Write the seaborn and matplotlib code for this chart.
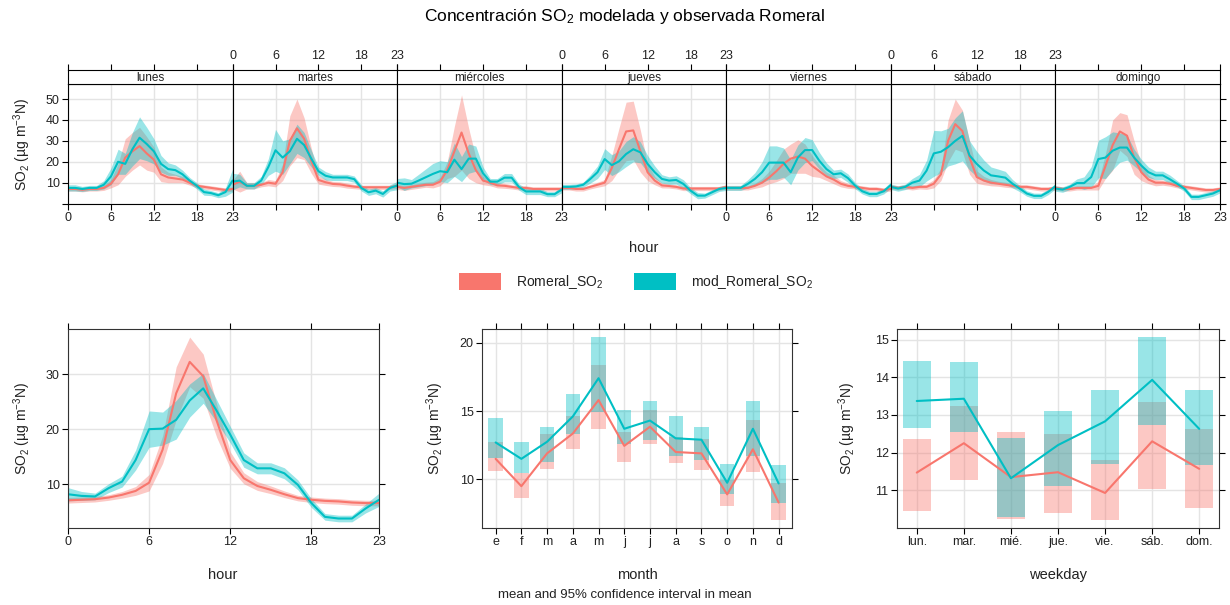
import numpy as np
import pandas as pd
import matplotlib
matplotlib.use("Agg")
import matplotlib.pyplot as plt
import seaborn as sns
from matplotlib.patches import Patch

# ---------------------------------------------------------------- data
days = ["lunes", "martes", "miércoles", "jueves", "viernes", "sábado", "domingo"]
hours = list(range(24))

# observed SO2, mean by weekday (rows) and hour (columns)
obs_day_hour = [
    [7, 7, 6.6, 7, 7, 7.5, 9.5, 14, 22, 25, 27.5, 24, 21, 14, 12.5, 12, 11.5, 10, 8.5, 8, 7.5, 7, 6.5, 7],
    [9, 10.5, 8.5, 8.5, 9, 10, 9.5, 15, 30, 36, 31, 20.5, 11.3, 10.2, 9.4, 9.2, 8.6, 8.1, 7.8, 7.8, 7.8, 7.8, 7.8, 8.5],
    [8, 7.5, 8, 8.5, 9, 9, 10.5, 16, 25, 34, 24, 16, 11, 10, 8.7, 8.5, 8, 7.5, 7.5, 7, 7, 7, 7, 7],
    [7.5, 7.5, 7, 7, 8, 9, 10, 17, 26, 34.5, 35, 25, 15, 11, 8.7, 8.4, 8, 7.2, 7.2, 7.2, 7.2, 7.2, 7.2, 8],
    [7.5, 7.5, 7.5, 7.5, 8.5, 10, 12.5, 15.5, 19, 21.5, 22.5, 21.5, 18, 15.5, 13, 11.5, 9.5, 8.5, 8, 7.5, 7, 7, 6.5, 7],
    [8, 7.5, 8, 7.5, 8, 8, 9.5, 14, 30, 38, 34.7, 22, 12.7, 11, 10, 9.5, 9, 8.5, 8, 8, 7.5, 7, 7, 7.5],
    [7.5, 7, 7, 7.5, 7.5, 7.5, 8.5, 18, 28, 34.5, 32.5, 22, 15, 11.5, 10, 10, 9.5, 8.5, 8, 7.5, 7, 6.5, 6.5, 7],
]
# half width of the 95% confidence interval of the observed mean
obs_day_hour_hw = [
    [1, 1, 1, 1, 1, 1.2, 2, 5, 9, 9, 9, 8, 6, 3.5, 2.5, 2, 1.5, 1.2, 1, 1, 1, 1, 1, 1],
    [2, 5, 1.5, 1.5, 1, 1.5, 1.5, 4, 12, 14, 10, 6, 2, 1.5, 1.2, 1.2, 1.2, 1, 1, 1, 1, 1, 1, 1.2],
    [1.2, 1.2, 1.2, 1.2, 1.2, 1.5, 2, 4, 12, 18, 12, 6, 2, 1.5, 1.2, 1.2, 1, 1, 1, 1, 1, 1, 1, 1],
    [1, 1, 1, 1, 1, 1.2, 1.5, 6, 10, 14, 14, 10, 4, 2, 1.2, 1, 1, 1, 1, 1, 1, 1, 1, 1],
    [1, 1, 1, 1, 1.2, 2, 3, 5, 7, 7, 8, 7, 5, 3, 2, 2, 1.5, 1.2, 1, 1, 1, 1, 1, 1],
    [1, 1, 1, 1, 1, 1.2, 2, 3, 10, 12, 10, 8, 3, 2, 1.5, 1.2, 1.2, 1, 1, 1, 1, 1, 1, 1],
    [1, 1, 1, 1, 1, 1, 2, 6, 12, 9, 10, 8, 4, 2, 1.5, 1.2, 1.2, 1, 1, 1, 1, 1, 1, 1],
]
# modelled SO2, mean by weekday and hour
mod_day_hour = [
    [7.5, 7.5, 7, 7.5, 7.5, 9, 13, 20, 19, 26, 31.5, 28.5, 25, 19, 16.5, 16, 14, 11, 8.5, 5.5, 5, 4, 5.5, 11],
    [10.5, 11, 8.5, 8.5, 11, 17.5, 25.5, 22, 25, 31, 28, 21.5, 15.5, 13.3, 12.5, 12.5, 12.5, 11.7, 7.5, 5.4, 6.2, 4.6, 7.5, 8.6],
    [10, 9.3, 9.5, 11, 12.6, 14.2, 15.5, 15, 21, 16.5, 21.5, 21.5, 14.5, 10.5, 10.5, 12.4, 12.4, 8, 5.8, 5.8, 5.8, 4.5, 4.5, 6.7],
    [8, 8, 8.2, 9, 11.8, 15, 21.3, 18.4, 20.2, 23.7, 26, 24.5, 19, 15, 11.8, 11, 11.3, 9.4, 6.2, 3.8, 3.8, 5.4, 7, 7.5],
    [7.5, 7.5, 7.5, 9.4, 11.8, 15, 19.6, 19.6, 19.6, 15, 22, 25.6, 25.6, 20.5, 16.5, 14, 14.5, 12.2, 8.6, 5.9, 4.6, 4.6, 5.9, 8.9],
    [8, 7.2, 8, 10, 11, 15.8, 24, 24.8, 27, 30, 32.4, 23, 19, 15.8, 13.5, 13, 12.4, 9.5, 7.2, 4.8, 3.7, 3.7, 5.6, 8.3],
    [7.2, 6.7, 8, 9.8, 9.8, 12.7, 21.3, 22, 25.3, 26.8, 26.8, 22, 18.2, 15, 13.5, 13.5, 11.6, 9.5, 7.2, 3.2, 3.2, 4, 4.8, 6.4],
]
mod_day_hour_hw = [
    [1.5, 1.5, 1.2, 1.2, 1.2, 2, 4, 6, 5, 8, 10, 8, 6, 4, 3, 2.5, 2, 1.5, 1.5, 1.5, 1.2, 1.2, 2, 5.5],
    [4, 3, 1.5, 1.5, 2, 4, 10, 8, 6, 7, 6, 4, 2, 2, 1.5, 1.5, 1.5, 1.5, 1.5, 1.5, 1.5, 1.5, 1.5, 2],
    [2, 3, 2, 3, 4, 5, 5, 5, 8, 6, 7, 6, 3, 1.5, 1.5, 2, 2, 1.5, 1.5, 1.5, 1.5, 1.2, 1.2, 1.5],
    [1.2, 1.2, 1.2, 1.2, 2, 3, 5, 5, 5, 6, 6, 5, 4, 3, 2, 1.8, 2, 2, 1.5, 1.5, 1.2, 1.2, 1.2, 1.2],
    [1.2, 1.2, 1.2, 2, 3, 5, 8, 8, 7, 6, 6, 6, 5, 4, 3, 2, 2, 2, 1.5, 1.3, 1.3, 1.3, 1.3, 1.5],
    [1.3, 1.3, 1.3, 2, 3, 5, 11, 10, 9, 11, 12, 7, 6, 5, 4, 3.5, 3, 2, 1.5, 1.3, 1.3, 1.3, 1.3, 1.3],
    [1.3, 1.3, 1.3, 2, 3, 5, 9, 10, 9, 7, 6, 4, 3, 2.5, 2, 2, 2, 1.5, 1.3, 1.3, 1.3, 1.3, 1.3, 1.3],
]

# diurnal profile over all days
obs_hour = [7.1, 7.2, 7.3, 7.6, 8.1, 8.8, 10.3, 16.3, 26.5, 32.2, 29.6, 21.5, 14.4, 11.1, 9.7, 9, 8.2, 7.5, 7.2, 7, 6.9, 6.7, 6.6, 6.6]
obs_hour_hw = [0.5, 0.5, 0.5, 0.5, 0.6, 0.8, 1.5, 2.5, 4.8, 4.5, 4, 3, 1.5, 1, 0.8, 0.7, 0.6, 0.5, 0.5, 0.5, 0.5, 0.5, 0.5, 0.5]
mod_hour = [8.2, 7.9, 7.8, 9.3, 10.5, 14.4, 20, 20.1, 21.7, 25.2, 27.4, 23.3, 19, 14.4, 12.9, 12.9, 12, 9.9, 6.6, 4.1, 3.8, 3.8, 5.6, 7.2]
mod_hour_hw = [1.2, 0.8, 0.6, 0.8, 1, 1.8, 3.3, 3, 3.5, 3, 2.7, 2, 1.5, 1.3, 1, 1, 1, 0.9, 0.8, 0.6, 0.6, 0.6, 0.8, 1.2]

# monthly means with 95% confidence limits
months = ["e", "f", "m", "a", "m", "j", "j", "a", "s", "o", "n", "d"]
obs_month = [11.5, 9.5, 11.9, 13.35, 15.8, 12.45, 13.85, 12.0, 11.9, 8.9, 12.2, 8.3]
obs_month_lo = [10.6, 8.6, 10.75, 12.2, 13.65, 11.3, 12.6, 11.2, 10.7, 8.05, 10.55, 7.0]
obs_month_hi = [12.7, 10.45, 13.3, 14.6, 18.4, 13.45, 15.05, 13.1, 12.95, 9.95, 14.35, 9.75]
mod_month = [12.7, 11.5, 12.75, 14.6, 17.4, 13.7, 14.3, 13.0, 12.9, 9.75, 13.7, 9.7]
mod_month_lo = [11.55, 10.45, 11.3, 13.35, 14.9, 12.6, 12.9, 11.7, 11.4, 8.9, 11.7, 8.3]
mod_month_hi = [14.5, 12.75, 13.8, 16.25, 20.4, 15.1, 15.7, 14.6, 13.8, 11.1, 15.7, 11.05]

# weekday means with 95% confidence limits
weekdays = ["lun.", "mar.", "mié.", "jue.", "vie.", "sáb.", "dom."]
obs_wd = [11.47, 12.25, 11.35, 11.48, 10.93, 12.3, 11.57]
obs_wd_lo = [10.45, 11.27, 10.23, 10.4, 10.2, 11.04, 10.54]
obs_wd_hi = [12.36, 13.24, 12.54, 12.5, 11.8, 13.35, 12.64]
mod_wd = [13.37, 13.43, 11.32, 12.2, 12.83, 13.93, 12.63]
mod_wd_lo = [12.65, 12.54, 10.3, 11.12, 11.7, 12.73, 11.66]
mod_wd_hi = [14.43, 14.41, 12.4, 13.1, 13.67, 15.08, 13.66]

# ---------------------------------------------------------------- style
sns.set_theme(style="white")
plt.rcParams["font.family"] = ["Liberation Sans", "DejaVu Sans"]
plt.rcParams["mathtext.fontset"] = "custom"
plt.rcParams["mathtext.rm"] = "Liberation Sans"
plt.rcParams["mathtext.it"] = "Liberation Sans:italic"
plt.rcParams["mathtext.bf"] = "Liberation Sans:bold"

OBS = "#F8766D"
MOD = "#00BFC4"
GRID = "#e4e4e4"
TXT = "#222222"
ALPHA = 0.4
YLAB = "SO$_2$ (µg m$^{-3}$N)"

W, H = 1230, 605
fig = plt.figure(figsize=(W / 100, H / 100), dpi=100)


def rect(x0, y0, x1, y1):
    return [x0 / W, 1 - y1 / H, (x1 - x0) / W, (y1 - y0) / H]


def frame(ax, color="black"):
    for s in ax.spines.values():
        s.set_visible(True)
        s.set_color(color)
        s.set_linewidth(0.8)
    ax.tick_params(direction="out", length=4, width=0.8, color="black",
                   labelsize=9, labelcolor=TXT, pad=2)


def band_line(ax, x, mean, lo, hi, color):
    ax.fill_between(x, lo, hi, color=color, alpha=ALPHA, linewidth=0)
    df = pd.DataFrame({"x": x, "y": mean})
    sns.lineplot(data=df, x="x", y="y", color=color, linewidth=1.5,
                 ax=ax, legend=False, errorbar=None)
    ax.set_xlabel("")
    ax.set_ylabel("")


# ---------------------------------------------------------------- weekday x hour panels
pw = (1220 - 68) / 7
hx = np.array(hours)
for i, day in enumerate(days):
    x0 = 68 + i * pw
    ax = fig.add_axes(rect(x0, 84, x0 + pw, 204))
    for mean, hw, col in ((obs_day_hour[i], obs_day_hour_hw[i], OBS),
                          (mod_day_hour[i], mod_day_hour_hw[i], MOD)):
        m = np.array(mean)
        h = np.array(hw)
        band_line(ax, hx, m, m - h, m + h, col)
    ax.set_xlim(0, 23)
    ax.set_ylim(-0.2, 57.2)
    ax.set_xticks([0, 6, 12, 18, 23])
    ax.set_yticks([0, 10, 20, 30, 40, 50])
    ax.grid(True, color=GRID, linewidth=1)
    ax.set_axisbelow(True)
    frame(ax)
    ax.tick_params(axis="x", bottom=True, top=False, labelbottom=(i % 2 == 0))
    ax.tick_params(axis="y", left=(i == 0), right=(i == 6),
                   labelleft=(i == 0), labelright=False)
    if i == 0:
        ax.set_yticklabels(["", "10", "20", "30", "40", "50"])

    strip = fig.add_axes(rect(x0, 70, x0 + pw, 84))
    strip.set_xlim(0, 23)
    strip.set_ylim(0, 1)
    strip.set_yticks([])
    strip.set_xticks([0, 6, 12, 18, 23])
    frame(strip)
    strip.tick_params(axis="x", top=True, bottom=False, labeltop=(i % 2 == 1),
                      labelbottom=False)
    strip.set_facecolor("white")
    strip.text(11.5, 0.45, day, ha="center", va="center", fontsize=8.5, color=TXT)

fig.text(22 / W, 1 - 144 / H, YLAB, rotation=90, ha="center", va="center",
         fontsize=10, color=TXT)
fig.text(644 / W, 1 - 248 / H, "hour", ha="center", va="center", fontsize=10.5, color=TXT)

# ---------------------------------------------------------------- legend
handles = [Patch(facecolor=OBS, edgecolor="none", label="Romeral_SO$_2$"),
           Patch(facecolor=MOD, edgecolor="none", label="mod_Romeral_SO$_2$")]
fig.legend(handles=handles, loc="center", bbox_to_anchor=(636 / W, 1 - 282 / H),
           ncol=2, frameon=False, fontsize=10, handlelength=3.0, handleheight=1.45,
           columnspacing=2.2, handletextpad=1.1, labelcolor=TXT)

# ---------------------------------------------------------------- hour panel
ax = fig.add_axes(rect(68, 329, 379, 528))
for mean, hw, col in ((obs_hour, obs_hour_hw, OBS), (mod_hour, mod_hour_hw, MOD)):
    m = np.array(mean)
    h = np.array(hw)
    band_line(ax, hx, m, m - h, m + h, col)
ax.set_xlim(0, 23)
ax.set_ylim(2.08, 38.16)
ax.set_xticks([0, 6, 12, 18, 23])
ax.set_yticks([10, 20, 30])
ax.grid(True, color=GRID, linewidth=1)
ax.set_axisbelow(True)
frame(ax, "#333333")
ax.tick_params(bottom=True, top=True, left=True, right=True,
               labeltop=False, labelright=False)
fig.text(223 / W, 1 - 575 / H, "hour", ha="center", va="center", fontsize=10.5, color=TXT)
fig.text(22 / W, 1 - 428 / H, YLAB, rotation=90, ha="center", va="center",
         fontsize=10, color=TXT)

# ---------------------------------------------------------------- month panel
ax = fig.add_axes(rect(482, 329, 792, 528))
mx = np.arange(1, 13)
for mean, lo, hi, col in ((obs_month, obs_month_lo, obs_month_hi, OBS),
                          (mod_month, mod_month_lo, mod_month_hi, MOD)):
    lo = np.array(lo)
    hi = np.array(hi)
    ax.bar(mx, hi - lo, bottom=lo, width=0.56, color=col, alpha=ALPHA, linewidth=0)
    sns.lineplot(x=mx, y=mean, color=col, linewidth=1.5, ax=ax, legend=False, errorbar=None)
ax.set_xlim(0.47, 12.52)
ax.set_ylim(6.44, 21.0)
ax.set_xticks(mx)
ax.set_xticklabels(months)
ax.set_yticks([10, 15, 20])
ax.grid(True, color=GRID, linewidth=1)
ax.set_axisbelow(True)
frame(ax, "#333333")
ax.tick_params(bottom=True, top=True, left=True, right=True,
               labeltop=False, labelright=False)
fig.text(637 / W, 1 - 575 / H, "month", ha="center", va="center", fontsize=10.5, color=TXT)
fig.text(625 / W, 1 - 595 / H, "mean and 95% confidence interval in mean",
         ha="center", va="center", fontsize=9.5, color=TXT)
fig.text(435 / W, 1 - 428 / H, YLAB, rotation=90, ha="center", va="center",
         fontsize=10, color=TXT)

# ---------------------------------------------------------------- weekday panel
ax = fig.add_axes(rect(897, 329, 1219, 528))
wx = np.arange(7)
for mean, lo, hi, col in ((obs_wd, obs_wd_lo, obs_wd_hi, OBS),
                          (mod_wd, mod_wd_lo, mod_wd_hi, MOD)):
    lo = np.array(lo)
    hi = np.array(hi)
    ax.bar(wx, hi - lo, bottom=lo, width=0.6, color=col, alpha=ALPHA, linewidth=0)
    sns.lineplot(x=wx, y=mean, color=col, linewidth=1.5, ax=ax, legend=False, errorbar=None)
ax.set_xlim(-0.42, 6.42)
ax.set_ylim(10.0, 15.28)
ax.set_xticks(wx)
ax.set_xticklabels(weekdays)
ax.set_yticks([11, 12, 13, 14, 15])
ax.grid(True, color=GRID, linewidth=1)
ax.set_axisbelow(True)
frame(ax, "#333333")
ax.tick_params(bottom=True, top=True, left=True, right=True,
               labeltop=False, labelright=False)
fig.text(1058 / W, 1 - 575 / H, "weekday", ha="center", va="center", fontsize=10.5, color=TXT)
fig.text(847 / W, 1 - 428 / H, YLAB, rotation=90, ha="center", va="center",
         fontsize=10, color=TXT)

# ---------------------------------------------------------------- title
fig.text(625 / W, 1 - 16 / H, "Concentración SO$_2$ modelada y observada Romeral",
         ha="center", va="center", fontsize=12.5, color="black")

fig.savefig("out.png", dpi=100)
